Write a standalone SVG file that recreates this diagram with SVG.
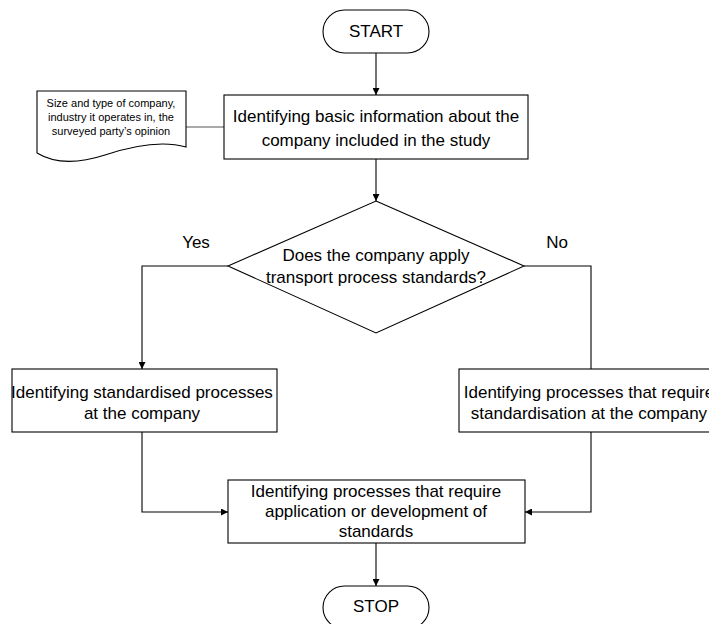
<svg xmlns="http://www.w3.org/2000/svg" width="709" height="624" viewBox="0 0 709 624">
  <style>
    .shape { fill: #ffffff; stroke: #000000; stroke-width: 1.1; }
    .line { fill: none; stroke: #000000; stroke-width: 1.1; }
    .soft { stroke: #555555; }
    text { font-family: "Liberation Sans", Arial, sans-serif; fill: #000000; text-anchor: middle; }
    .t { font-size: 17px; }
    .s { font-size: 11px; }
  </style>
  <defs>
    <marker id="arrow" viewBox="0 0 10 10" refX="10" refY="5" markerWidth="7" markerHeight="7" markerUnits="userSpaceOnUse" orient="auto">
      <path d="M0,0 L10,5 L0,10 Z" fill="#000000"/>
    </marker>
  </defs>
  <rect width="709" height="624" fill="#ffffff"/>

  <g id="connectors">
    <line class="line" x1="376" y1="53" x2="376" y2="95" marker-end="url(#arrow)"/>
    <line class="line soft" x1="186" y1="127" x2="224" y2="127"/>
    <line class="line" x1="376" y1="159" x2="376" y2="201" marker-end="url(#arrow)"/>
    <polyline class="line" points="228,266 142,266 142,369" marker-end="url(#arrow)"/>
    <polyline class="line" points="524,266 591,266 591,369"/>
    <polyline class="line" points="142,432 142,512 228,512" marker-end="url(#arrow)"/>
    <polyline class="line" points="591,432 591,512 525,512" marker-end="url(#arrow)"/>
    <line class="line" x1="376" y1="543" x2="376" y2="586" marker-end="url(#arrow)"/>
  </g>

  <g id="start">
    <rect class="shape" x="323" y="10" width="106" height="43" rx="21.5"/>
    <text class="t" x="376" y="37">START</text>
  </g>

  <g id="source-data">
    <path class="shape" d="M37,91 H186 V147 C165,141 135,145 105,155 C80,163 55,164 37,153 Z"/>
    <text class="s" x="111" y="107">Size and type of company,</text>
    <text class="s" x="111" y="121">industry it operates in, the</text>
    <text class="s" x="111" y="135">surveyed party’s opinion</text>
  </g>

  <g id="basic-info">
    <rect class="shape" x="224" y="95" width="304" height="64"/>
    <text class="t" x="376" y="122">Identifying basic information about the</text>
    <text class="t" x="376" y="146">company included in the study</text>
  </g>

  <g id="decision">
    <polygon class="shape" points="376,201 524,266 376,333 228,266"/>
    <text class="t" x="376" y="261">Does the company apply</text>
    <text class="t" x="376" y="283">transport process standards?</text>
  </g>

  <g id="label-yes">
    <text class="t" x="196" y="248">Yes</text>
  </g>
  <g id="label-no">
    <text class="t" x="557" y="248">No</text>
  </g>

  <g id="standardised">
    <rect class="shape" x="12" y="369" width="265" height="63"/>
    <text class="t" x="142" y="398">Identifying standardised processes</text>
    <text class="t" x="142" y="419">at the company</text>
  </g>

  <g id="to-standardise">
    <rect class="shape" x="459" y="369" width="262" height="63"/>
    <text class="t" x="589" y="398">Identifying processes that require</text>
    <text class="t" x="589" y="419">standardisation at the company</text>
  </g>

  <g id="requirements">
    <rect class="shape" x="228" y="480" width="297" height="63"/>
    <text class="t" x="376" y="497">Identifying processes that require</text>
    <text class="t" x="376" y="517">application or development of</text>
    <text class="t" x="376" y="537">standards</text>
  </g>

  <g id="stop">
    <rect class="shape" x="323" y="586" width="106" height="43" rx="21.5"/>
    <text class="t" x="376" y="612">STOP</text>
  </g>
</svg>
